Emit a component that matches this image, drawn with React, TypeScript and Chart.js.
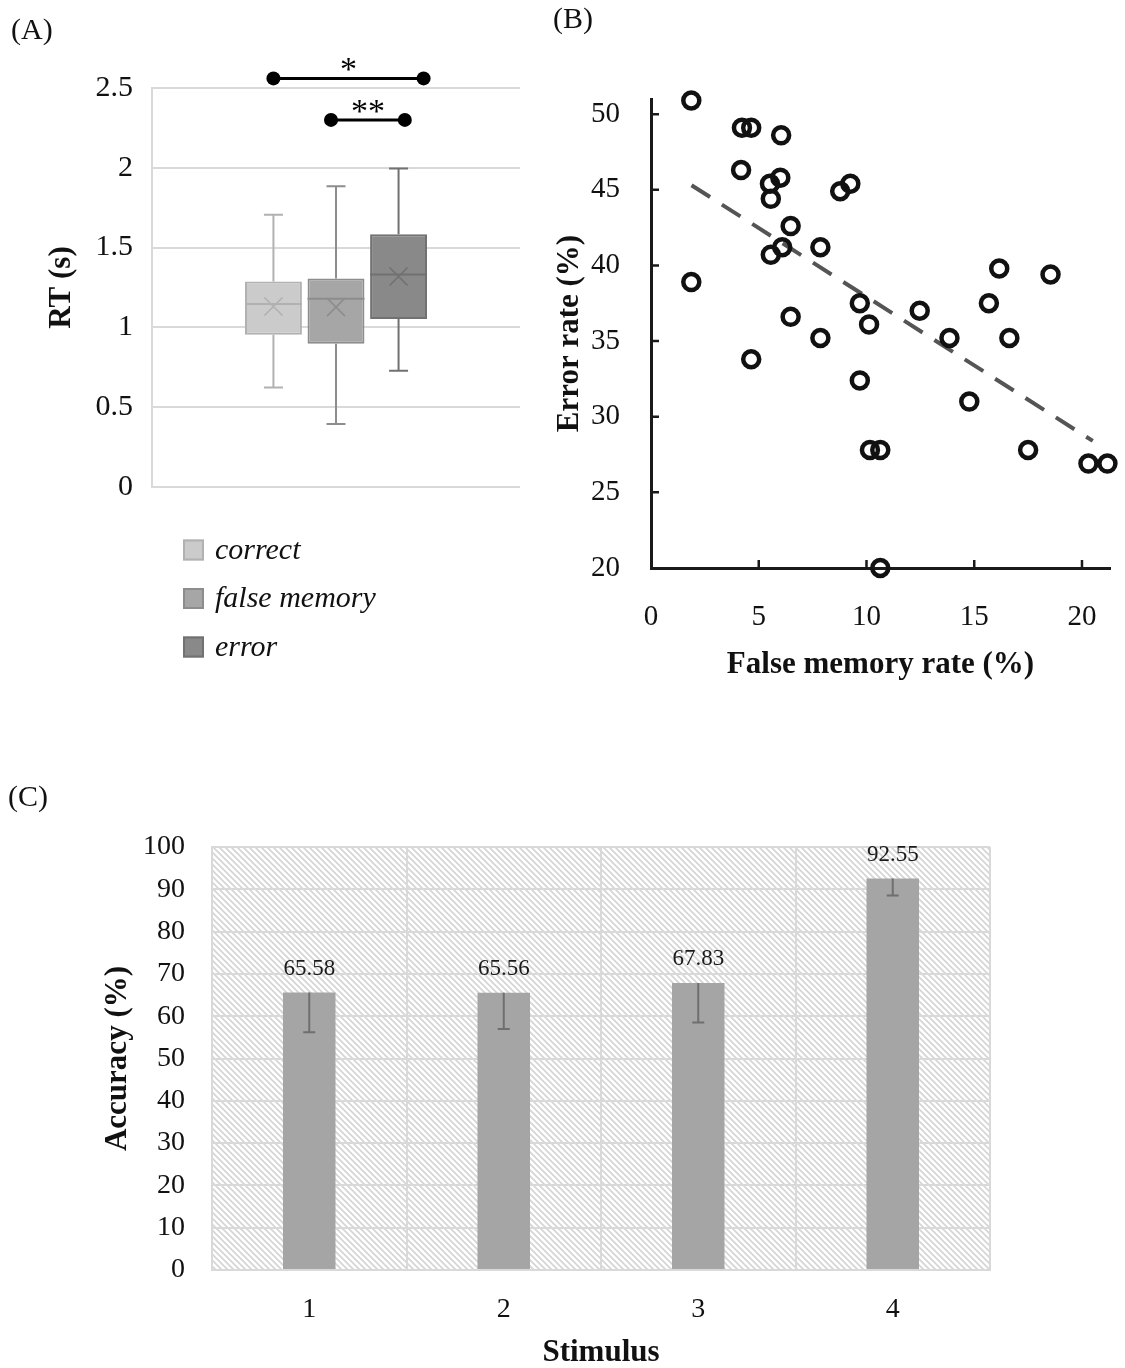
import React, { useEffect, useRef } from 'react';
import { Chart, registerables } from 'chart.js';

Chart.register(...registerables);

const FONT = "'Liberation Serif', 'Times New Roman', Times, serif";
const INK = '#111111';

// ---------- Panel A : reaction time box plot ----------
const rtGroups = ['correct', 'false memory', 'error'];
const rtQ1 = [0.954, 0.897, 1.052];
const rtQ3 = [1.288, 1.307, 1.583];
const rtMedian = [1.146, 1.179, 1.332];
const rtMean = [1.131, 1.127, 1.319];
const rtMin = [0.623, 0.394, 0.728];
const rtMax = [1.706, 1.884, 1.995];
const rtFill = ['#cbcbcb', '#a6a6a6', '#898989'];
const rtEdge = ['#b1b1b1', '#8d8d8d', '#717171'];
const sigText = ['*', '**'];
const sigStart = [0, 0.92];
const sigEnd = [2.4, 2.1];
const sigLevel = [2.56, 2.3];

// ---------- Panel B : false memory vs error rate ----------
const falseMemoryRate = [1.87, 1.87, 4.22, 4.65, 4.18, 6.04, 5.52, 6.0, 5.56, 6.48, 5.56, 6.09, 7.86, 8.78, 9.25, 6.48, 4.65, 7.86, 9.69, 10.12, 9.69, 10.16, 10.64, 10.64, 12.47, 13.85, 14.77, 15.68, 16.16, 16.63, 18.54, 17.5, 20.3, 21.18];
const errorRate = [50.9, 38.9, 49.1, 49.1, 46.3, 48.6, 45.4, 45.8, 44.4, 42.6, 40.7, 41.2, 41.2, 44.9, 45.4, 36.6, 33.8, 35.2, 37.5, 36.1, 32.4, 27.8, 27.8, 20.0, 37.0, 35.2, 31.0, 37.5, 39.8, 35.2, 39.4, 27.8, 26.9, 26.9];
const trendX = [1.88, 20.5];
const trendY = [45.3, 28.4];

// ---------- Panel C : accuracy per stimulus ----------
const stimuli = ['1', '2', '3', '4'];
const accuracy = [65.58, 65.56, 67.83, 92.55];
const accuracyErr = [9.4, 8.6, 9.3, 4.0];

function makeA(canvas: HTMLCanvasElement) {
  const boxPlugin = {
    id: 'boxPlot',
    afterDatasetsDraw(chart: any) {
      const ctx = chart.ctx;
      const y = chart.scales.y;
      const centers: number[] = [];
      chart.data.datasets.forEach((_ds: any, i: number) => {
        const bar: any = chart.getDatasetMeta(i).data[0];
        const x = bar.x;
        const half = bar.width / 2;
        centers.push(x);
        const pMax = y.getPixelForValue(rtMax[i]);
        const pMin = y.getPixelForValue(rtMin[i]);
        const pQ1 = y.getPixelForValue(rtQ1[i]);
        const pQ3 = y.getPixelForValue(rtQ3[i]);
        const pMed = y.getPixelForValue(rtMedian[i]);
        const pMean = y.getPixelForValue(rtMean[i]);
        ctx.save();
        ctx.strokeStyle = rtEdge[i];
        ctx.lineWidth = 2;
        ctx.beginPath();
        ctx.moveTo(x, pQ3); ctx.lineTo(x, pMax);
        ctx.moveTo(x - 9.5, pMax); ctx.lineTo(x + 9.5, pMax);
        ctx.moveTo(x, pQ1); ctx.lineTo(x, pMin);
        ctx.moveTo(x - 9.5, pMin); ctx.lineTo(x + 9.5, pMin);
        ctx.moveTo(x - half, pMed); ctx.lineTo(x + half, pMed);
        ctx.stroke();
        ctx.lineWidth = 1.6;
        const s = 9;
        ctx.beginPath();
        ctx.moveTo(x - s, pMean - s); ctx.lineTo(x + s, pMean + s);
        ctx.moveTo(x + s, pMean - s); ctx.lineTo(x - s, pMean + s);
        ctx.stroke();
        ctx.restore();
      });
      const step = centers[1] - centers[0];
      sigText.forEach((t, k) => {
        const x1 = centers[0] + sigStart[k] * step;
        const x2 = centers[0] + sigEnd[k] * step;
        const yy = y.getPixelForValue(sigLevel[k]);
        ctx.save();
        ctx.strokeStyle = '#000';
        ctx.fillStyle = '#000';
        ctx.lineWidth = 3;
        ctx.beginPath(); ctx.moveTo(x1, yy); ctx.lineTo(x2, yy); ctx.stroke();
        [x1, x2].forEach((px) => { ctx.beginPath(); ctx.arc(px, yy, 7, 0, Math.PI * 2); ctx.fill(); });
        ctx.font = `34px ${FONT}`;
        ctx.textAlign = 'center';
        ctx.textBaseline = 'alphabetic';
        ctx.fillText(t, (x1 + x2) / 2, yy + 2);
        ctx.restore();
      });
    },
    afterDraw(chart: any) {
      const ctx = chart.ctx;
      const base = chart.chartArea.bottom;
      chart.data.datasets.forEach((ds: any, i: number) => {
        const cy = base + 63 + i * 48.5;
        ctx.save();
        ctx.fillStyle = ds.backgroundColor;
        ctx.fillRect(183, cy - 10.5, 21, 21);
        ctx.strokeStyle = ds.borderColor;
        ctx.lineWidth = 2;
        ctx.strokeRect(184, cy - 9.5, 19, 19);
        ctx.fillStyle = INK;
        ctx.font = `italic 30px ${FONT}`;
        ctx.textAlign = 'left';
        ctx.textBaseline = 'middle';
        ctx.fillText(ds.label, 215, cy + 1);
        ctx.restore();
      });
    },
  };

  return new Chart(canvas, {
    type: 'bar',
    data: {
      labels: [''],
      datasets: rtGroups.map((g, i) => ({
        label: g,
        data: [[rtQ1[i], rtQ3[i]]] as any,
        backgroundColor: rtFill[i],
        borderColor: rtEdge[i],
        borderWidth: 2,
        borderSkipped: false,
        categoryPercentage: 0.51,
        barPercentage: 0.91,
      })),
    },
    options: {
      responsive: false,
      animation: false,
      layout: { padding: { left: 46, right: 20, top: 88, bottom: 203 } },
      plugins: { legend: { display: false }, tooltip: { enabled: false } },
      scales: {
        x: { display: false },
        y: {
          min: 0,
          max: 2.5,
          ticks: { stepSize: 0.5, font: { family: FONT, size: 30 }, color: INK, padding: 19, callback: (v: any) => String(v) },
          grid: { color: '#d9d9d9', lineWidth: 2, drawTicks: false },
          border: { color: '#d9d9d9', width: 2 },
          title: { display: true, text: 'RT (s)', color: INK, padding: 0, font: { family: FONT, size: 31, weight: 'bold', lineHeight: 1 } },
          afterFit: (s: any) => { s.width = 106; },
        },
      },
    } as any,
    plugins: [boxPlugin],
  });
}

function makeB(canvas: HTMLCanvasElement) {
  const tickPlugin = {
    id: 'inwardTicks',
    afterDraw(chart: any) {
      const ctx = chart.ctx;
      const xs = chart.scales.x;
      const ys = chart.scales.y;
      const ca = chart.chartArea;
      ctx.save();
      ctx.strokeStyle = '#1a1a1a';
      ctx.lineWidth = 2.5;
      ctx.beginPath();
      xs.ticks.forEach((t: any) => {
        if (t.value <= xs.min) return;
        const px = xs.getPixelForValue(t.value);
        ctx.moveTo(px, ca.bottom); ctx.lineTo(px, ca.bottom - 8);
      });
      ys.ticks.forEach((t: any) => {
        if (t.value <= ys.min) return;
        const py = ys.getPixelForValue(t.value);
        ctx.moveTo(ca.left, py); ctx.lineTo(ca.left + 8, py);
      });
      ctx.stroke();
      ctx.restore();
    },
  };

  return new Chart(canvas, {
    type: 'scatter',
    data: {
      datasets: [
        {
          type: 'scatter',
          data: falseMemoryRate.map((x, i) => ({ x, y: errorRate[i] })),
          pointRadius: 8,
          pointBorderWidth: 4.5,
          borderColor: '#111',
          pointBorderColor: '#111',
          backgroundColor: 'rgba(0,0,0,0)',
          pointBackgroundColor: 'rgba(0,0,0,0)',
          clip: false,
          order: 1,
        },
        {
          type: 'line',
          data: trendX.map((x, i) => ({ x, y: trendY[i] })),
          borderColor: '#555555',
          borderWidth: 4,
          borderDash: [22, 14],
          pointRadius: 0,
          fill: false,
          order: 2,
        },
      ],
    } as any,
    options: {
      responsive: false,
      animation: false,
      layout: { padding: { left: 14, right: 15, top: 99, bottom: 20 } },
      plugins: { legend: { display: false }, tooltip: { enabled: false } },
      scales: {
        x: {
          type: 'linear',
          min: 0,
          max: 21.3,
          ticks: { stepSize: 5, includeBounds: false, font: { family: FONT, size: 29 }, color: INK, padding: 24 },
          grid: { display: false },
          border: { display: true, color: '#1a1a1a', width: 3 },
          title: { display: true, text: 'False memory rate (%)', color: INK, padding: 0, font: { family: FONT, size: 31, weight: 'bold', lineHeight: 1 } },
          afterFit: (s: any) => { s.height = 112; },
        },
        y: {
          type: 'linear',
          min: 20,
          max: 51,
          ticks: { stepSize: 5, includeBounds: false, font: { family: FONT, size: 29 }, color: INK, padding: 23 },
          grid: { display: false },
          border: { display: true, color: '#1a1a1a', width: 3 },
          title: { display: true, text: 'Error rate (%)', color: INK, padding: 0, font: { family: FONT, size: 31, weight: 'bold', lineHeight: 1 } },
          afterFit: (s: any) => { s.width = 97; },
        },
      },
    } as any,
    plugins: [tickPlugin],
  });
}

function makeC(canvas: HTMLCanvasElement) {
  const T = 6;
  const tile = document.createElement('canvas');
  tile.width = T;
  tile.height = T;
  const g = tile.getContext('2d')!;
  g.fillStyle = '#ffffff';
  g.fillRect(0, 0, T, T);
  g.strokeStyle = '#d4d4d4';
  g.lineWidth = 1.6;
  g.beginPath();
  g.moveTo(-1, -1); g.lineTo(T + 1, T + 1);
  g.moveTo(-1, T - 1); g.lineTo(1, T + 1);
  g.moveTo(T - 1, -1); g.lineTo(T + 1, 1);
  g.stroke();

  const cPlugin = {
    id: 'accuracyExtras',
    beforeDraw(chart: any) {
      const ctx = chart.ctx;
      const ca = chart.chartArea;
      const pat = ctx.createPattern(tile, 'repeat');
      ctx.save();
      ctx.fillStyle = pat;
      ctx.fillRect(ca.left, ca.top, ca.right - ca.left, ca.bottom - ca.top);
      ctx.restore();
    },
    afterDatasetsDraw(chart: any) {
      const ctx = chart.ctx;
      const ys = chart.scales.y;
      const meta = chart.getDatasetMeta(0);
      meta.data.forEach((bar: any, i: number) => {
        const top = ys.getPixelForValue(accuracy[i]);
        const low = ys.getPixelForValue(accuracy[i] - accuracyErr[i]);
        ctx.save();
        ctx.strokeStyle = '#6f6f6f';
        ctx.lineWidth = 2;
        ctx.beginPath();
        ctx.moveTo(bar.x, top); ctx.lineTo(bar.x, low);
        ctx.moveTo(bar.x - 6, low); ctx.lineTo(bar.x + 6, low);
        ctx.stroke();
        ctx.fillStyle = '#1a1a1a';
        ctx.font = `23px ${FONT}`;
        ctx.textAlign = 'center';
        ctx.textBaseline = 'middle';
        ctx.fillText(accuracy[i].toFixed(2), bar.x, top - 24);
        ctx.restore();
      });
    },
  };

  return new Chart(canvas, {
    type: 'bar',
    data: {
      labels: stimuli,
      datasets: [
        {
          label: 'Accuracy',
          data: accuracy,
          backgroundColor: '#a5a5a5',
          barPercentage: 0.27,
          categoryPercentage: 1,
        },
      ],
    },
    options: {
      responsive: false,
      animation: false,
      layout: { padding: { left: 102, right: 135, top: 57, bottom: 0 } },
      plugins: { legend: { display: false }, tooltip: { enabled: false } },
      scales: {
        x: {
          grid: { color: '#d9d9d9', lineWidth: 2, drawTicks: false, offset: true },
          border: { color: '#d9d9d9', width: 2 },
          ticks: { font: { family: FONT, size: 28 }, color: INK, padding: 23 },
          title: { display: true, text: 'Stimulus', color: INK, padding: 0, font: { family: FONT, size: 31, weight: 'bold', lineHeight: 1 } },
          afterFit: (s: any) => { s.height = 98; },
        },
        y: {
          min: 0,
          max: 100,
          ticks: { stepSize: 10, font: { family: FONT, size: 28 }, color: INK, padding: 27 },
          grid: { color: '#d9d9d9', lineWidth: 2, drawTicks: false },
          border: { color: '#d9d9d9', width: 2 },
          title: { display: true, text: 'Accuracy (%)', color: INK, padding: 0, font: { family: FONT, size: 31, weight: 'bold', lineHeight: 1 } },
          afterFit: (s: any) => { s.width = 110; },
        },
      },
    } as any,
    plugins: [cPlugin],
  });
}

export default function App() {
  const aRef = useRef<HTMLCanvasElement>(null);
  const bRef = useRef<HTMLCanvasElement>(null);
  const cRef = useRef<HTMLCanvasElement>(null);

  useEffect(() => {
    const charts = [makeA(aRef.current!), makeB(bRef.current!), makeC(cRef.current!)];
    return () => charts.forEach((c) => c.destroy());
  }, []);

  const labelStyle = (left: number, top: number): React.CSSProperties => ({
    position: 'absolute',
    left,
    top,
    font: `30px ${FONT}`,
    lineHeight: 1,
    color: INK,
    whiteSpace: 'nowrap',
  });

  return (
    <div style={{ position: 'absolute', left: 0, top: 0, width: 1125, height: 1368, background: '#ffffff', overflow: 'hidden' }}>
      <canvas ref={aRef} width={540} height={690} style={{ position: 'absolute', left: 0, top: 0 }} />
      <canvas ref={bRef} width={585} height={700} style={{ position: 'absolute', left: 540, top: 0 }} />
      <canvas ref={cRef} width={1125} height={578} style={{ position: 'absolute', left: 0, top: 790 }} />
      <div style={labelStyle(11, 14)}>(A)</div>
      <div style={labelStyle(553, 3)}>(B)</div>
      <div style={labelStyle(8, 781)}>(C)</div>
    </div>
  );
}
